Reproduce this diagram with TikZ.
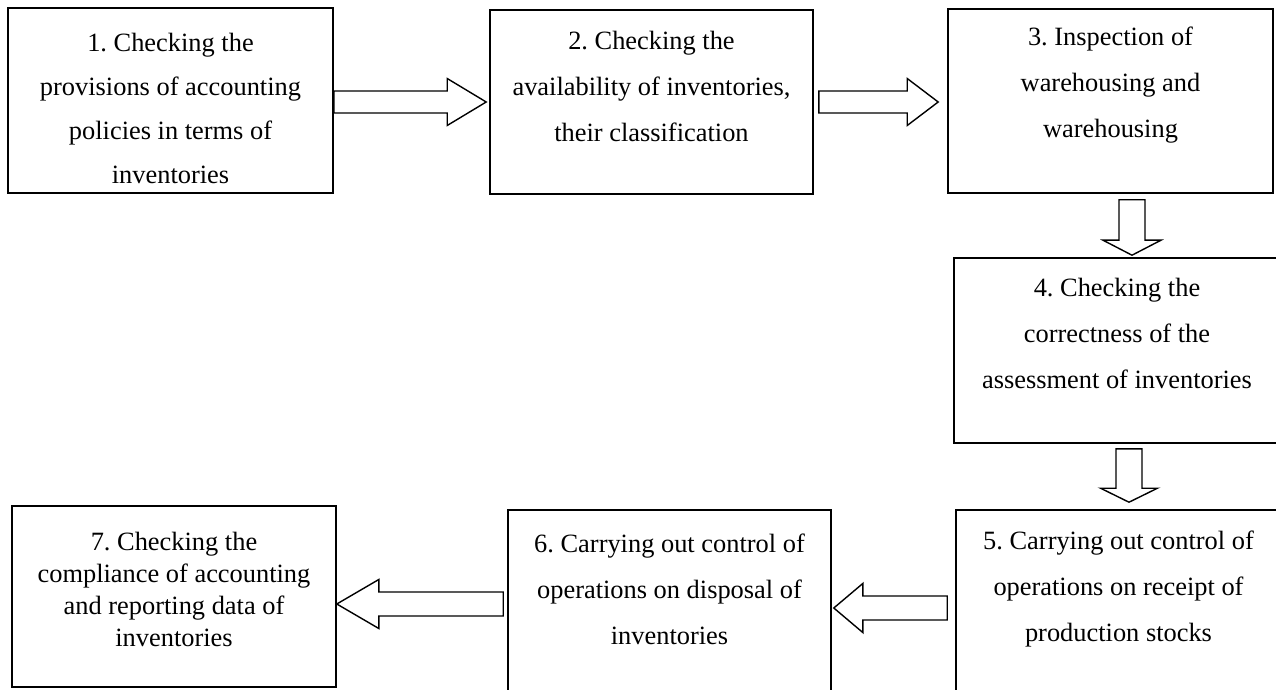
\documentclass[tikz,border=0pt]{standalone}
\usepackage{fontspec}
\setmainfont{Liberation Serif}
\usetikzlibrary{calc}
\frenchspacing

\tikzset{
  stage/.style={draw, line width=0.8pt, inner sep=0pt, minimum width=162.5pt, minimum height=92.5pt},
  stagetext/.style={anchor=north, align=center, inner sep=0pt, font=\fontsize{13.2}{23}\selectfont},
  arrowline/.style={draw, line width=0.7pt, line join=miter}
}
\newcommand{\blockarrow}[5]{%
  \coordinate (hb) at ($(#2)!#5!(#1)$);
  \draw[arrowline] ($(#1)!#3!90:(#2)$) -- ($(hb)!#3!-90:(#1)$) -- ($(hb)!#4!-90:(#1)$)
    -- (#2) -- ($(hb)!#4!90:(#1)$) -- ($(hb)!#3!90:(#1)$) -- ($(#1)!#3!-90:(#2)$) -- cycle;
}

\begin{document}
\begin{tikzpicture}[x=0.5pt, y=-0.5pt]
    \useasboundingbox (0,0) rectangle (1276,690);
    \clip (0,0) rectangle (1276,690);

    \node[stage] (b1) at (170.5,100.5) {};
    \node[stage, minimum width=161.5pt, minimum height=92pt] (b2) at (651.5,102) {};
    \node[stage, minimum height=92pt] (b3) at (1110.5,101) {};
    \node[stage, minimum width=163pt] (b4) at (1117,350.5) {};
    \node[stage] (b5) at (1118.5,602.5) {};
    \node[stage, minimum width=161.5pt] (b6) at (669.5,602.5) {};
    \node[stage, minimum width=162pt, minimum height=90.5pt] (b7) at (174,596.5) {};

    \node[stagetext, font=\fontsize{13.2}{22}\selectfont] (t1) at ($(b1.north)+(0,26)$) {1. Checking the\\provisions of accounting\\policies in terms of\\inventories};
    \node[stagetext] (t2) at ($(b2.north)+(0,22)$) {2. Checking the\\availability of inventories,\\their classification};
    \node[stagetext] (t3) at ($(b3.north)+(0,18)$) {3. Inspection of\\warehousing and\\warehousing};
    \node[stagetext] (t4) at ($(b4.north)+(0,21)$) {4. Checking the\\correctness of the\\assessment of inventories};
    \node[stagetext] (t5) at ($(b5.north)+(0,21)$) {5. Carrying out control of\\operations on receipt of\\production stocks};
    \node[stagetext] (t6) at ($(b6.north)+(0,24)$) {6. Carrying out control of\\operations on disposal of\\inventories};
    \node[stagetext, font=\fontsize{13.2}{16}\selectfont] (t7) at ($(b7.north)+(0,27)$) {7. Checking the\\compliance of accounting\\and reporting data of\\inventories};

    \coordinate (a12s) at ($(b1.east)+(0,1.5)$);
    \coordinate (a12e) at ($(b2.west)+(-3,0)$);
    \coordinate (a23s) at ($(b2.east)+(5,0)$);
    \coordinate (a23e) at ($(b3.west)+(-9,1)$);
    \coordinate (a34s) at ($(b3.south)+(21.5,6)$);
    \coordinate (a34e) at ($(b4.north)+(15,-2)$);
    \coordinate (a45s) at ($(b4.south)+(12,5)$);
    \coordinate (a45e) at ($(b5.north)+(10.5,-7)$);
    \coordinate (a56s) at ($(b5.west)+(-8,5.5)$);
    \coordinate (a56e) at ($(b6.east)+(2,5.5)$);
    \coordinate (a67s) at ($(b6.west)+(-4,1.5)$);
    \coordinate (a67e) at ($(b7.east)+(0,7.5)$);

    \blockarrow{a12s}{a12e}{5.5pt}{11.75pt}{19.5pt}
    \blockarrow{a23s}{a23e}{5.5pt}{11.75pt}{15.5pt}
    \blockarrow{a34s}{a34e}{6.5pt}{14.5pt}{7.5pt}
    \blockarrow{a45s}{a45e}{6.5pt}{14.25pt}{7pt}
    \blockarrow{a56s}{a56e}{6pt}{12.25pt}{14.5pt}
    \blockarrow{a67s}{a67e}{6pt}{12.25pt}{21pt}
\end{tikzpicture}
\end{document}
